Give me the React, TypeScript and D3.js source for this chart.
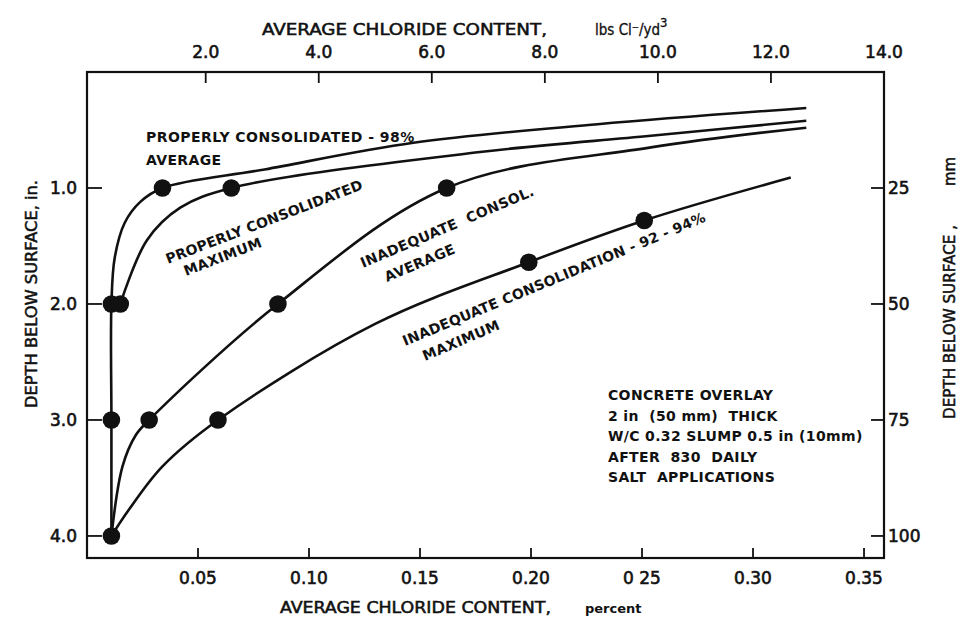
import React from "react";
import * as d3 from "d3";

// ---- data (percent chloride, depth in inches) ----
const bottomTicks = [0.05, 0.1, 0.15, 0.2, 0.25, 0.3, 0.35];
const bottomTickLabels = ["0.05", "0.10", "0.15", "0.20", "0 25", "0.30", "0.35"];
const topTicks = [2, 4, 6, 8, 10, 12, 14];
const topTickLabels = ["2.0", "4.0", "6.0", "8.0", "10.0", "12.0", "14.0"];
const leftTicks = [1, 2, 3, 4];
const leftTickLabels = ["1.0", "2.0", "3.0", "4.0"];
const rightTicksMm = [25, 50, 75, 100];

const pcAvgX = [0.011, 0.011, 0.011, 0.0125, 0.017, 0.024, 0.034, 0.08, 0.147, 0.23, 0.324];
const pcAvgD = [4.0, 3.0, 2.0, 1.6, 1.3, 1.12, 1.0, 0.84, 0.61, 0.45, 0.31];
const pcMaxX = [0.015, 0.027, 0.042, 0.065, 0.177, 0.254, 0.324];
const pcMaxD = [2.0, 1.45, 1.17, 1.0, 0.69, 0.55, 0.42];
const icAvgX = [0.011, 0.016, 0.022, 0.028, 0.086, 0.162, 0.254, 0.324];
const icAvgD = [4.0, 3.4, 3.13, 3.0, 2.0, 1.0, 0.65, 0.48];
const icMaxX = [0.011, 0.019, 0.034, 0.059, 0.13, 0.199, 0.251, 0.317];
const icMaxD = [4.0, 3.77, 3.4, 3.0, 2.17, 1.64, 1.28, 0.91];

const markerX = [0.034, 0.011, 0.011, 0.011, 0.065, 0.015, 0.162, 0.086, 0.028, 0.251, 0.199, 0.059];
const markerD = [1.0, 2.0, 3.0, 4.0, 1.0, 2.0, 1.0, 2.0, 3.0, 1.28, 1.64, 3.0];

const noteLines = [
  "CONCRETE OVERLAY",
  "2 in  (50 mm)  THICK",
  "W/C 0.32 SLUMP 0.5 in (10mm)",
  "AFTER  830  DAILY",
  "SALT  APPLICATIONS",
];

const W = 965;
const H = 617;
const L = 87, R = 884, T = 72, B = 558;

export default function App() {
  const x = d3.scaleLinear().domain([0, 0.359]).range([L, R]);
  const xTop = d3.scaleLinear().domain([-0.1, 14.0]).range([L, R]);
  const y = d3.scaleLinear().domain([0, 4.19]).range([T, B]);
  const line = d3
    .line<[number, number]>()
    .x((d) => x(d[0]))
    .y((d) => y(d[1]))
    .curve(d3.curveCatmullRom.alpha(0.5));
  const series = [
    [pcAvgX, pcAvgD],
    [pcMaxX, pcMaxD],
    [icAvgX, icAvgD],
    [icMaxX, icMaxD],
  ].map(([xs, ds]) => xs.map((v, i) => [v, ds[i]] as [number, number]));

  const lab = { fontFamily: "DejaVu Sans", fontWeight: 700, fontSize: 14, letterSpacing: 0.35, fill: "#111" } as const;
  const tick = { fontFamily: "DejaVu Sans", fontWeight: 400, fontSize: 17, fill: "#111", stroke: "#111", strokeWidth: 0.6 } as const;
  const title = { fontFamily: "DejaVu Sans Condensed, DejaVu Sans", fontWeight: 400, fontSize: 16, fill: "#111", stroke: "#111", strokeWidth: 0.5, fontStretch: "condensed" } as const;

  return (
    <svg width={W} height={H} style={{ position: "absolute", left: 0, top: 0, background: "#fff" }}>
      <rect x={0} y={0} width={W} height={H} fill="#fff" />
      {/* frame */}
      <rect x={L} y={T} width={R - L} height={B - T} fill="none" stroke="#111" strokeWidth={2.2} />
      {/* bottom ticks */}
      {bottomTicks.map((t, i) => (
        <g key={"b" + i}>
          <line x1={x(t)} x2={x(t)} y1={B} y2={B - 10} stroke="#111" strokeWidth={1.8} />
          <text x={x(t)} y={584} textAnchor="middle" {...tick}>{bottomTickLabels[i]}</text>
        </g>
      ))}
      {/* top ticks */}
      {topTicks.map((t, i) => (
        <g key={"t" + i}>
          {t < 14 && <line x1={xTop(t)} x2={xTop(t)} y1={T} y2={T + 11} stroke="#111" strokeWidth={1.8} />}
          <text x={xTop(t)} y={58} textAnchor="middle" {...tick}>{topTickLabels[i]}</text>
        </g>
      ))}
      {/* left ticks */}
      {leftTicks.map((t, i) => (
        <g key={"l" + i}>
          <line x1={L} x2={L + 15} y1={y(t)} y2={y(t)} stroke="#111" strokeWidth={1.8} />
          <text x={77} y={y(t)} dy="0.36em" textAnchor="end" {...tick}>{leftTickLabels[i]}</text>
        </g>
      ))}
      {/* right ticks */}
      {rightTicksMm.map((t, i) => (
        <g key={"r" + i}>
          <line x1={R} x2={R - 13} y1={y(t / 25)} y2={y(t / 25)} stroke="#111" strokeWidth={1.8} />
          <text x={888} y={y(t / 25)} dy="0.36em" textAnchor="start" {...tick}>{t}</text>
        </g>
      ))}
      {/* curves */}
      {series.map((s, i) => (
        <path key={"s" + i} d={line(s) || ""} fill="none" stroke="#111" strokeWidth={2.6} />
      ))}
      {markerX.map((v, i) => (
        <circle key={"m" + i} cx={x(v)} cy={y(markerD[i])} r={8.8} fill="#111" />
      ))}
      {/* axis titles */}
      <text x={262} y={35} {...title} textLength={285} lengthAdjust="spacingAndGlyphs">
        AVERAGE CHLORIDE CONTENT,
      </text>
      <text x={595} y={35} {...title} fontSize={15} strokeWidth={0.3}>
        lbs Cl⁻/yd
        <tspan fontSize={13} dy={-8}>3</tspan>
      </text>
      <text x={280} y={613} {...title} textLength={271} lengthAdjust="spacingAndGlyphs">
        AVERAGE CHLORIDE CONTENT,
      </text>
      <text x={585} y={613} fontFamily="DejaVu Sans" fontWeight={700} fontSize={13} fill="#111">percent</text>
      <text transform={`translate(37,408) rotate(-90)`} textAnchor="start" {...tick} fontSize={15} strokeWidth={0.5} textLength={228} lengthAdjust="spacingAndGlyphs">
        DEPTH BELOW SURFACE, in.
      </text>
      <text transform={`translate(955,419) rotate(-90)`} textAnchor="start" {...tick} fontSize={15} strokeWidth={0.5} textLength={194} lengthAdjust="spacingAndGlyphs">
        DEPTH BELOW SURFACE ,
      </text>
      <text transform={`translate(955,186) rotate(-90)`} textAnchor="start" {...tick} fontSize={15} strokeWidth={0.5}>
        mm
      </text>
      {/* curve labels */}
      <text x={146} y={142} {...lab} letterSpacing={0.45}>PROPERLY CONSOLIDATED - 98%</text>
      <text x={146} y={165} {...lab}>AVERAGE</text>
      <text transform="translate(168,264) rotate(-21)" {...lab} letterSpacing={0.1}>PROPERLY CONSOLIDATED</text>
      <text transform="translate(186,276) rotate(-21)" {...lab}>MAXIMUM</text>
      <text transform="translate(363,268) rotate(-23)" {...lab} xmlSpace="preserve">INADEQUATE  CONSOL.</text>
      <text transform="translate(387,282) rotate(-23)" {...lab}>AVERAGE</text>
      <text transform="translate(405,346) rotate(-22.5)" {...lab} letterSpacing={0.2}>INADEQUATE CONSOLIDATION - 92 - 94%</text>
      <text transform="translate(425,361) rotate(-23)" {...lab}>MAXIMUM</text>
      {noteLines.map((s, i) => (
        <text key={"n" + i} x={608} y={400 + i * 20.5} {...lab} xmlSpace="preserve">{s}</text>
      ))}
    </svg>
  );
}
